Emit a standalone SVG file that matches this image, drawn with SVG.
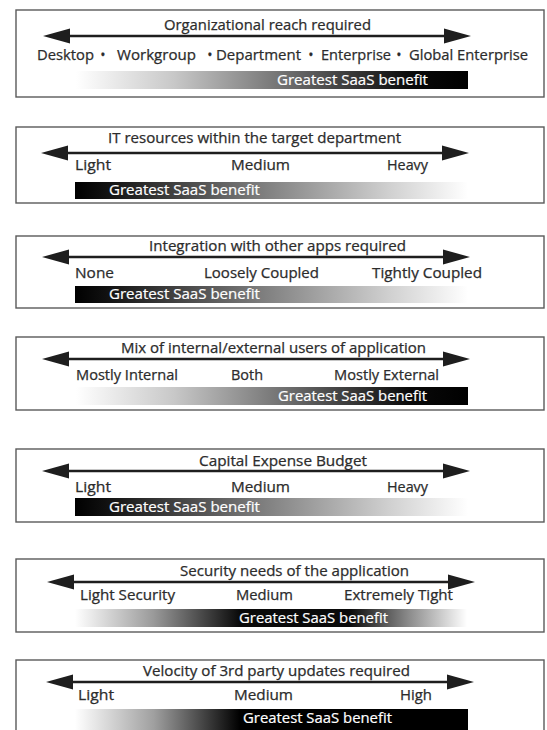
<svg xmlns="http://www.w3.org/2000/svg" xmlns:xlink="http://www.w3.org/1999/xlink" width="547" height="730" viewBox="0 0 547 730">
  <style>
    .frame { fill: #ffffff; stroke: #5a5a5a; stroke-width: 1.4; }
    .t { font-family: "Open Sans", "Noto Sans", "Liberation Sans", sans-serif; font-size: 14px; fill: #2c2c2c; stroke: #2c2c2c; stroke-width: 0.25; }
    .bar-label { font-family: "Open Sans", "Noto Sans", "Liberation Sans", sans-serif; font-size: 14px; fill: #ffffff; stroke: #ffffff; stroke-width: 0.2; }
    .mid { text-anchor: middle; }
  </style>
  <defs>
    <!-- double-headed scale arrow, 428 wide, centred on y=0 -->
    <g id="dblArrow">
      <path d="M24,0 H404" stroke="#1e1e1e" stroke-width="2.4" fill="none"/>
      <path d="M0,0 L27,-7.5 L27,7.5 Z" fill="#1e1e1e"/>
      <path d="M428,0 L401,-7.5 L401,7.5 Z" fill="#1e1e1e"/>
    </g>
    <!-- benefit bars -->
    <linearGradient id="fadeToBlack" x1="0" y1="0" x2="1" y2="0">
      <stop offset="0" stop-color="#ffffff"/>
      <stop offset="0.25" stop-color="#c8c8c8"/>
      <stop offset="0.55" stop-color="#6a6a6a"/>
      <stop offset="0.85" stop-color="#0a0a0a"/>
      <stop offset="1" stop-color="#000000"/>
    </linearGradient>
    <linearGradient id="blackToFade" x1="0" y1="0" x2="1" y2="0">
      <stop offset="0" stop-color="#000000"/>
      <stop offset="0.08" stop-color="#111111"/>
      <stop offset="0.45" stop-color="#777777"/>
      <stop offset="0.8" stop-color="#d0d0d0"/>
      <stop offset="1" stop-color="#ffffff"/>
    </linearGradient>
    <linearGradient id="centrePeak" x1="0" y1="0" x2="1" y2="0">
      <stop offset="0" stop-color="#ffffff"/>
      <stop offset="0.2" stop-color="#9a9a9a"/>
      <stop offset="0.42" stop-color="#0a0a0a"/>
      <stop offset="0.7" stop-color="#0a0a0a"/>
      <stop offset="0.85" stop-color="#8a8a8a"/>
      <stop offset="1" stop-color="#ffffff"/>
    </linearGradient>
    <linearGradient id="earlyBlack" x1="0" y1="0" x2="1" y2="0">
      <stop offset="0" stop-color="#ffffff"/>
      <stop offset="0.2" stop-color="#a0a0a0"/>
      <stop offset="0.42" stop-color="#000000"/>
      <stop offset="1" stop-color="#000000"/>
    </linearGradient>
  </defs>

  <rect width="547" height="730" fill="#ffffff"/>

  <!-- 1: organizational reach -->
  <g id="panel-reach">
    <rect class="frame" x="16" y="10" width="528" height="87"/>
    <text class="t" x="164" y="30" textLength="207" lengthAdjust="spacingAndGlyphs">Organizational reach required</text>
    <use xlink:href="#dblArrow" x="43" y="36"/>
    <text class="t" x="37" y="60" textLength="57" lengthAdjust="spacingAndGlyphs">Desktop</text>
    <text class="t mid" x="103" y="60">•</text>
    <text class="t" x="117" y="60" textLength="79" lengthAdjust="spacingAndGlyphs">Workgroup</text>
    <text class="t mid" x="210" y="60">•</text>
    <text class="t" x="216" y="60" textLength="85" lengthAdjust="spacingAndGlyphs">Department</text>
    <text class="t mid" x="311" y="60">•</text>
    <text class="t" x="321" y="60" textLength="70" lengthAdjust="spacingAndGlyphs">Enterprise</text>
    <text class="t mid" x="399" y="60">•</text>
    <text class="t" x="409" y="60" textLength="119" lengthAdjust="spacingAndGlyphs">Global Enterprise</text>
    <rect x="76" y="71" width="392" height="18" fill="url(#fadeToBlack)"/>
    <text class="bar-label" x="277" y="85" textLength="151" lengthAdjust="spacingAndGlyphs">Greatest SaaS benefit</text>
  </g>

  <!-- 2: IT resources -->
  <g id="panel-it-resources">
    <rect class="frame" x="16" y="127" width="528" height="76"/>
    <text class="t" x="108" y="143" textLength="293" lengthAdjust="spacingAndGlyphs">IT resources within the target department</text>
    <use xlink:href="#dblArrow" x="41" y="153"/>
    <text class="t" x="75" y="170" textLength="36" lengthAdjust="spacingAndGlyphs">Light</text>
    <text class="t" x="231" y="170" textLength="59" lengthAdjust="spacingAndGlyphs">Medium</text>
    <text class="t" x="387" y="170" textLength="41" lengthAdjust="spacingAndGlyphs">Heavy</text>
    <rect x="75" y="182" width="393" height="17" fill="url(#blackToFade)"/>
    <text class="bar-label" x="109" y="195" textLength="151" lengthAdjust="spacingAndGlyphs">Greatest SaaS benefit</text>
  </g>

  <!-- 3: integration -->
  <g id="panel-integration">
    <rect class="frame" x="16" y="236" width="528" height="72"/>
    <text class="t" x="149" y="251" textLength="257" lengthAdjust="spacingAndGlyphs">Integration with other apps required</text>
    <use xlink:href="#dblArrow" x="42" y="257"/>
    <text class="t" x="75" y="278" textLength="39" lengthAdjust="spacingAndGlyphs">None</text>
    <text class="t" x="204" y="278" textLength="115" lengthAdjust="spacingAndGlyphs">Loosely Coupled</text>
    <text class="t" x="372" y="278" textLength="110" lengthAdjust="spacingAndGlyphs">Tightly Coupled</text>
    <rect x="75" y="286" width="393" height="17" fill="url(#blackToFade)"/>
    <text class="bar-label" x="109" y="299" textLength="151" lengthAdjust="spacingAndGlyphs">Greatest SaaS benefit</text>
  </g>

  <!-- 4: internal / external users -->
  <g id="panel-users">
    <rect class="frame" x="16" y="337" width="528" height="73"/>
    <text class="t" x="121" y="353" textLength="305" lengthAdjust="spacingAndGlyphs">Mix of internal/external users of application</text>
    <use xlink:href="#dblArrow" x="42" y="359"/>
    <text class="t" x="76" y="380" textLength="102" lengthAdjust="spacingAndGlyphs">Mostly Internal</text>
    <text class="t" x="231" y="380" textLength="32" lengthAdjust="spacingAndGlyphs">Both</text>
    <text class="t" x="334" y="380" textLength="105" lengthAdjust="spacingAndGlyphs">Mostly External</text>
    <rect x="76" y="387" width="392" height="18" fill="url(#fadeToBlack)"/>
    <text class="bar-label" x="278" y="401" textLength="149" lengthAdjust="spacingAndGlyphs">Greatest SaaS benefit</text>
  </g>

  <!-- 5: capital expense -->
  <g id="panel-capex">
    <rect class="frame" x="16" y="449" width="528" height="73"/>
    <text class="t" x="199" y="466" textLength="168" lengthAdjust="spacingAndGlyphs">Capital Expense Budget</text>
    <use xlink:href="#dblArrow" x="42" y="471"/>
    <text class="t" x="75" y="492" textLength="36" lengthAdjust="spacingAndGlyphs">Light</text>
    <text class="t" x="231" y="492" textLength="59" lengthAdjust="spacingAndGlyphs">Medium</text>
    <text class="t" x="387" y="492" textLength="41" lengthAdjust="spacingAndGlyphs">Heavy</text>
    <rect x="75" y="498" width="393" height="18" fill="url(#blackToFade)"/>
    <text class="bar-label" x="109" y="512" textLength="151" lengthAdjust="spacingAndGlyphs">Greatest SaaS benefit</text>
  </g>

  <!-- 6: security -->
  <g id="panel-security">
    <rect class="frame" x="16" y="559" width="528" height="73"/>
    <text class="t" x="180" y="576" textLength="229" lengthAdjust="spacingAndGlyphs">Security needs of the application</text>
    <use xlink:href="#dblArrow" x="47" y="582"/>
    <text class="t" x="80" y="600" textLength="95" lengthAdjust="spacingAndGlyphs">Light Security</text>
    <text class="t" x="236" y="600" textLength="57" lengthAdjust="spacingAndGlyphs">Medium</text>
    <text class="t" x="344" y="600" textLength="109" lengthAdjust="spacingAndGlyphs">Extremely Tight</text>
    <rect x="75" y="609" width="392" height="18" fill="url(#centrePeak)"/>
    <text class="bar-label" x="239" y="623" textLength="149" lengthAdjust="spacingAndGlyphs">Greatest SaaS benefit</text>
  </g>

  <!-- 7: third-party update velocity (frame runs off the bottom edge) -->
  <g id="panel-velocity">
    <rect class="frame" x="16" y="660" width="528" height="90"/>
    <text class="t" x="143" y="676" textLength="267" lengthAdjust="spacingAndGlyphs">Velocity of 3rd party updates required</text>
    <use xlink:href="#dblArrow" x="46" y="682"/>
    <text class="t" x="78" y="700" textLength="36" lengthAdjust="spacingAndGlyphs">Light</text>
    <text class="t" x="234" y="700" textLength="59" lengthAdjust="spacingAndGlyphs">Medium</text>
    <text class="t" x="400" y="700" textLength="32" lengthAdjust="spacingAndGlyphs">High</text>
    <rect x="75" y="709" width="393" height="22" fill="url(#earlyBlack)"/>
    <text class="bar-label" x="243" y="723" textLength="149" lengthAdjust="spacingAndGlyphs">Greatest SaaS benefit</text>
  </g>
</svg>
